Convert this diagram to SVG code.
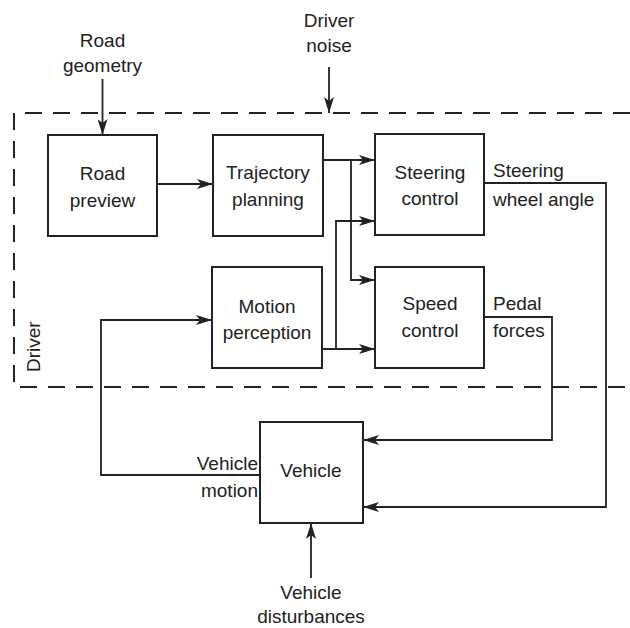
<svg xmlns="http://www.w3.org/2000/svg" width="630" height="628" viewBox="0 0 630 628">
<style>
text{font-family:"Liberation Sans",Arial,Helvetica,sans-serif;font-size:19px;fill:#222;}
.c{text-anchor:middle;}
.e{text-anchor:end;}
.box{fill:#fff;stroke:#222;stroke-width:2;}
.ln{fill:none;stroke:#222;stroke-width:1.8;}
.dash{fill:none;stroke:#222;stroke-width:2;stroke-dasharray:17 11;}
</style>
<defs>
<marker id="ah" viewBox="0 0 16 10" refX="16" refY="5" markerWidth="16" markerHeight="10" markerUnits="userSpaceOnUse" orient="auto">
<path d="M0,0 L16,5 L0,10 L4,5 z" fill="#222"/>
</marker>
</defs>
<g id="driver-boundary">
<path class="dash" d="M630,113 H14 V387 H630"/>
<text transform="translate(40,372) rotate(-90)">Driver</text>
</g>
<g id="connectors">
<path class="ln" d="M102.5,79 V135" marker-end="url(#ah)"/>
<path class="ln" d="M329,67 V113" marker-end="url(#ah)"/>
<path class="ln" d="M157,184 H213" marker-end="url(#ah)"/>
<path class="ln" d="M323,160 H375" marker-end="url(#ah)"/>
<path class="ln" d="M351,160 V280 H375" marker-end="url(#ah)"/>
<path class="ln" d="M322,349 H375" marker-end="url(#ah)"/>
<path class="ln" d="M336,349 V221 H375" marker-end="url(#ah)"/>
<path class="ln" d="M484,183 H606 V507 H363" marker-end="url(#ah)"/>
<path class="ln" d="M484,317 H552 V440 H363" marker-end="url(#ah)"/>
<path class="ln" d="M260,475 H101 V320 H212" marker-end="url(#ah)"/>
<path class="ln" d="M311,578 V523" marker-end="url(#ah)"/>
</g>
<g id="labels">
<text class="c" x="102.5" y="47">Road</text>
<text class="c" x="102.5" y="72">geometry</text>
<text class="c" x="329" y="27">Driver</text>
<text class="c" x="329" y="52">noise</text>
<text x="493" y="177">Steering</text>
<text x="493" y="206">wheel angle</text>
<text x="493" y="310">Pedal</text>
<text x="493" y="337">forces</text>
<text class="e" x="258" y="470">Vehicle</text>
<text class="e" x="258" y="497">motion</text>
<text class="c" x="311" y="599">Vehicle</text>
<text class="c" x="311" y="623">disturbances</text>
</g>
<g id="road-preview">
<rect class="box" x="48" y="135" width="109" height="101"/>
<text class="c" x="102.5" y="180">Road</text>
<text class="c" x="102.5" y="207">preview</text>
</g>
<g id="trajectory-planning">
<rect class="box" x="213" y="135" width="110" height="101"/>
<text class="c" x="268" y="179">Trajectory</text>
<text class="c" x="268" y="206">planning</text>
</g>
<g id="motion-perception">
<rect class="box" x="212" y="267" width="110" height="101"/>
<text class="c" x="267" y="313">Motion</text>
<text class="c" x="267" y="339">perception</text>
</g>
<g id="steering-control">
<rect class="box" x="375" y="134" width="109" height="101"/>
<text class="c" x="430" y="179">Steering</text>
<text class="c" x="430" y="205">control</text>
</g>
<g id="speed-control">
<rect class="box" x="375" y="267" width="109" height="101"/>
<text class="c" x="430" y="310">Speed</text>
<text class="c" x="430" y="337">control</text>
</g>
<g id="vehicle">
<rect class="box" x="260" y="422" width="103" height="101"/>
<text class="c" x="311" y="477">Vehicle</text>
</g>
</svg>
